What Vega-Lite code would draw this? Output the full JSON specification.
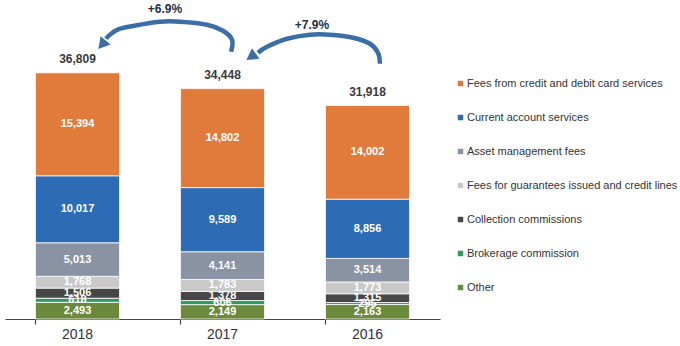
{
  "$schema": "https://vega.github.io/schema/vega-lite/v6.json",
  "width": 435,
  "height": 319,
  "padding": {"left": 5, "top": 0, "right": 0, "bottom": 0},
  "background": "#ffffff",
  "config": {
    "view": {"stroke": null},
    "font": "Liberation Sans"
  },
  "datasets": {
    "fees": [
      {"year": "2018", "category": "Other", "rank": 1, "value": 2493},
      {"year": "2018", "category": "Brokerage commission", "rank": 2, "value": 618},
      {"year": "2018", "category": "Collection commissions", "rank": 3, "value": 1506},
      {"year": "2018", "category": "Fees for guarantees issued and credit lines", "rank": 4, "value": 1768},
      {"year": "2018", "category": "Asset management fees", "rank": 5, "value": 5013},
      {"year": "2018", "category": "Current account services", "rank": 6, "value": 10017},
      {"year": "2018", "category": "Fees from credit and debit card services", "rank": 7, "value": 15394},
      {"year": "2017", "category": "Other", "rank": 1, "value": 2149},
      {"year": "2017", "category": "Brokerage commission", "rank": 2, "value": 606},
      {"year": "2017", "category": "Collection commissions", "rank": 3, "value": 1378},
      {"year": "2017", "category": "Fees for guarantees issued and credit lines", "rank": 4, "value": 1783},
      {"year": "2017", "category": "Asset management fees", "rank": 5, "value": 4141},
      {"year": "2017", "category": "Current account services", "rank": 6, "value": 9589},
      {"year": "2017", "category": "Fees from credit and debit card services", "rank": 7, "value": 14802},
      {"year": "2016", "category": "Other", "rank": 1, "value": 2163},
      {"year": "2016", "category": "Brokerage commission", "rank": 2, "value": 295},
      {"year": "2016", "category": "Collection commissions", "rank": 3, "value": 1315},
      {"year": "2016", "category": "Fees for guarantees issued and credit lines", "rank": 4, "value": 1773},
      {"year": "2016", "category": "Asset management fees", "rank": 5, "value": 3514},
      {"year": "2016", "category": "Current account services", "rank": 6, "value": 8856},
      {"year": "2016", "category": "Fees from credit and debit card services", "rank": 7, "value": 14002}
    ],
    "arrows": [
      {"arrow": "a", "seq": 1, "pos": 1.559, "value": 39964},
      {"arrow": "a", "seq": 2, "pos": 1.566, "value": 41760},
      {"arrow": "a", "seq": 3, "pos": 1.503, "value": 43107},
      {"arrow": "a", "seq": 4, "pos": 1.393, "value": 44005},
      {"arrow": "a", "seq": 5, "pos": 1.207, "value": 44455},
      {"arrow": "a", "seq": 6, "pos": 1.069, "value": 44455},
      {"arrow": "a", "seq": 7, "pos": 0.931, "value": 44005},
      {"arrow": "a", "seq": 8, "pos": 0.793, "value": 43406},
      {"arrow": "a", "seq": 9, "pos": 0.724, "value": 42509},
      {"arrow": "a", "seq": 10, "pos": 0.697, "value": 41910},
      {"arrow": "b", "seq": 1, "pos": 2.586, "value": 38168},
      {"arrow": "b", "seq": 2, "pos": 2.572, "value": 39814},
      {"arrow": "b", "seq": 3, "pos": 2.517, "value": 41161},
      {"arrow": "b", "seq": 4, "pos": 2.4, "value": 42060},
      {"arrow": "b", "seq": 5, "pos": 2.241, "value": 42509},
      {"arrow": "b", "seq": 6, "pos": 2.103, "value": 42509},
      {"arrow": "b", "seq": 7, "pos": 1.945, "value": 41910},
      {"arrow": "b", "seq": 8, "pos": 1.807, "value": 40713},
      {"arrow": "b", "seq": 9, "pos": 1.745, "value": 39814}
    ],
    "heads": [
      {"arrow": "a", "pos": 0.669, "value": 41012},
      {"arrow": "b", "pos": 1.697, "value": 39216}
    ],
    "growth": [
      {"label": "+6.9%", "pos": 1.103, "value": 46400},
      {"label": "+7.9%", "pos": 2.117, "value": 44005}
    ]
  },
  "layer": [
    {
      "data": {"name": "fees"},
      "layer": [
        {
          "mark": {"type": "bar", "stroke": "#ffffff", "strokeWidth": 0.8},
          "encoding": {
            "x": {
              "field": "year", "type": "nominal", "sort": ["2018", "2017", "2016"],
              "scale": {"paddingInner": 0.42, "paddingOuter": 0.21},
              "axis": {
                "title": null, "labelAngle": 0, "labelFontSize": 14, "labelColor": "#333333",
                "labelPadding": 3, "domainColor": "#444444", "domainWidth": 1.2,
                "tickColor": "#444444", "tickSize": 5, "tickWidth": 1.2, "bandPosition": 0
              }
            },
            "y": {
              "field": "value", "type": "quantitative", "stack": "zero",
              "scale": {"domain": [0, 47700], "nice": false, "zero": true},
              "axis": null
            },
            "order": {"field": "rank", "type": "quantitative", "sort": "ascending"},
            "color": {
              "field": "category", "type": "nominal",
              "scale": {
                "domain": [
                  "Fees from credit and debit card services",
                  "Current account services",
                  "Asset management fees",
                  "Fees for guarantees issued and credit lines",
                  "Collection commissions",
                  "Brokerage commission",
                  "Other"
                ],
                "range": ["#E07B3C", "#2D6CB4", "#8A93A3", "#C9C9C9", "#474747", "#2E9C5C", "#6C8A3B"]
              },
              "legend": {
                "title": null, "orient": "none", "legendX": 450, "legendY": 78,
                "symbolType": "square", "symbolSize": 30, "symbolStrokeWidth": 0,
                "labelFontSize": 11, "labelColor": "#333333", "labelOffset": 1,
                "labelLimit": 300, "rowPadding": 22, "padding": 0
              }
            }
          }
        },
        {
          "transform": [
            {"stack": "value", "groupby": ["year"], "sort": [{"field": "rank", "order": "ascending"}], "as": ["v0", "v1"]},
            {"calculate": "(datum.v0 + datum.v1) / 2", "as": "mid"}
          ],
          "mark": {"type": "text", "color": "#ffffff", "fontSize": 11, "fontWeight": "bold", "baseline": "middle"},
          "encoding": {
            "x": {"field": "year", "type": "nominal", "sort": ["2018", "2017", "2016"]},
            "y": {"field": "mid", "type": "quantitative", "scale": {"domain": [0, 47700], "nice": false}, "axis": null},
            "text": {"field": "value", "type": "quantitative", "format": ",d"}
          }
        },
        {
          "transform": [
            {"aggregate": [{"op": "sum", "field": "value", "as": "total"}], "groupby": ["year"]}
          ],
          "mark": {"type": "text", "color": "#3a3a3a", "fontSize": 12, "fontWeight": "bold", "baseline": "bottom", "dy": -7},
          "encoding": {
            "x": {"field": "year", "type": "nominal", "sort": ["2018", "2017", "2016"]},
            "y": {"field": "total", "type": "quantitative", "scale": {"domain": [0, 47700], "nice": false}, "axis": null},
            "text": {"field": "total", "type": "quantitative", "format": ",d"}
          }
        }
      ]
    },
    {
      "layer": [
        {
          "data": {"name": "arrows"},
          "mark": {"type": "line", "interpolate": "cardinal", "strokeWidth": 4.5, "color": "#3A6EA5", "strokeCap": "butt"},
          "encoding": {
            "x": {"field": "pos", "type": "quantitative", "scale": {"domain": [0, 3], "nice": false, "zero": false}, "axis": null},
            "y": {"field": "value", "type": "quantitative", "scale": {"domain": [0, 47700], "nice": false}, "axis": null},
            "order": {"field": "seq", "type": "quantitative"},
            "detail": {"field": "arrow", "type": "nominal"}
          }
        },
        {
          "data": {"name": "heads"},
          "transform": [{"filter": "datum.arrow === 'a'"}],
          "mark": {"type": "point", "shape": "triangle-down", "filled": true, "size": 170, "angle": 40, "color": "#3A6EA5", "opacity": 1},
          "encoding": {
            "x": {"field": "pos", "type": "quantitative", "scale": {"domain": [0, 3], "nice": false, "zero": false}, "axis": null},
            "y": {"field": "value", "type": "quantitative", "scale": {"domain": [0, 47700], "nice": false}, "axis": null}
          }
        },
        {
          "data": {"name": "heads"},
          "transform": [{"filter": "datum.arrow === 'b'"}],
          "mark": {"type": "point", "shape": "triangle-down", "filled": true, "size": 170, "angle": 55, "color": "#3A6EA5", "opacity": 1},
          "encoding": {
            "x": {"field": "pos", "type": "quantitative", "scale": {"domain": [0, 3], "nice": false, "zero": false}, "axis": null},
            "y": {"field": "value", "type": "quantitative", "scale": {"domain": [0, 47700], "nice": false}, "axis": null}
          }
        },
        {
          "data": {"name": "growth"},
          "mark": {"type": "text", "color": "#1f2f45", "fontSize": 12, "fontWeight": "bold", "baseline": "middle"},
          "encoding": {
            "x": {"field": "pos", "type": "quantitative", "scale": {"domain": [0, 3], "nice": false, "zero": false}, "axis": null},
            "y": {"field": "value", "type": "quantitative", "scale": {"domain": [0, 47700], "nice": false}, "axis": null},
            "text": {"field": "label", "type": "nominal"}
          }
        }
      ]
    }
  ],
  "resolve": {"scale": {"x": "independent"}}
}
